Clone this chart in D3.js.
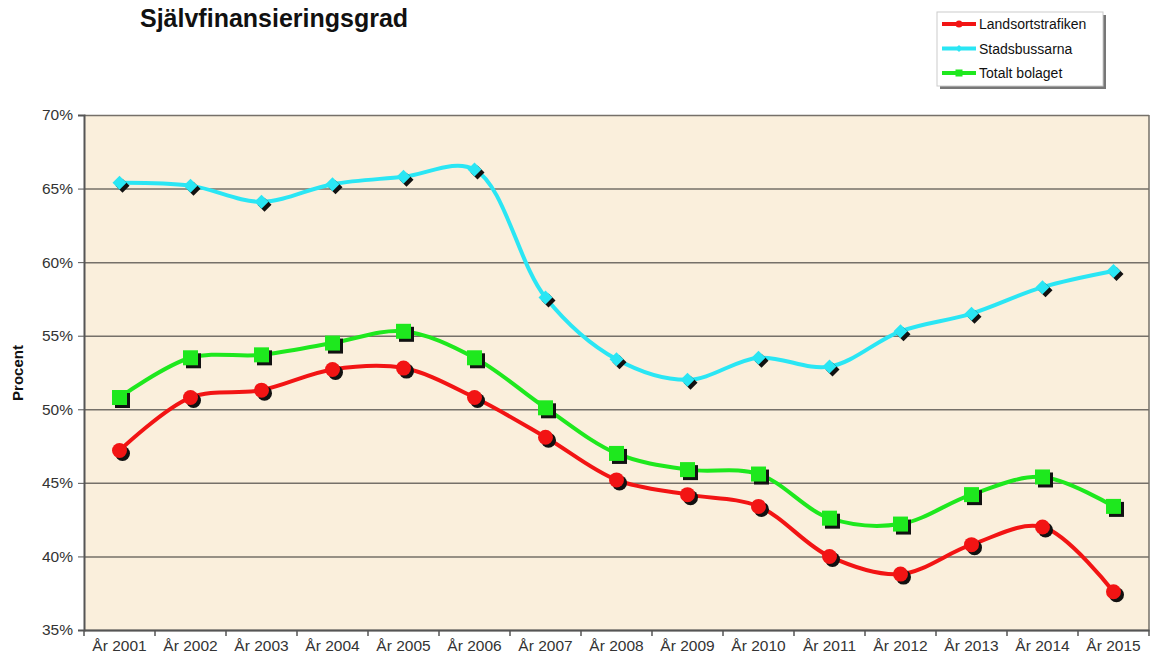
<!DOCTYPE html>
<html lang="sv">
<head>
<meta charset="UTF-8">
<title>Självfinansieringsgrad</title>
<script src="https://d3js.org/d3.v7.min.js"></script>
<style>
  body { margin: 0; background: #fff; }
  svg { display: block; font-family: "Liberation Sans", Arial, sans-serif; }
  .axis path, .axis line { stroke: #555; }
  .axis text { fill: #333; }
</style>
</head>
<body>
<svg id="chart" width="1152" height="657"></svg>
<script>
// data
var years = ["År 2001","År 2002","År 2003","År 2004","År 2005","År 2006","År 2007","År 2008",
             "År 2009","År 2010","År 2011","År 2012","År 2013","År 2014","År 2015"];
var landsort = [47.2, 50.8, 51.3, 52.7, 52.8, 50.8, 48.1, 45.2, 44.2, 43.4, 40.0, 38.8, 40.8, 42.0, 37.6];
var stadsbuss = [65.4, 65.2, 64.1, 65.3, 65.8, 66.3, 57.6, 53.4, 52.0, 53.5, 52.9, 55.3, 56.5, 58.3, 59.4];
var totalt = [50.8, 53.5, 53.7, 54.5, 55.3, 53.5, 50.1, 47.0, 45.9, 45.6, 42.6, 42.2, 44.2, 45.4, 43.4];
var yTicks = [35, 40, 45, 50, 55, 60, 65, 70];

var series = [
  { name: "Landsortstrafiken", values: landsort, color: "#f21414", marker: "circle" },
  { name: "Stadsbussarna", values: stadsbuss, color: "#2ae6f4", marker: "diamond" },
  { name: "Totalt bolaget", values: totalt, color: "#1ee81e", marker: "square" }
];

var svg = d3.select("#chart");
var plotL = 84, plotR = 1149, plotT = 115, plotB = 630;

var x = d3.scaleBand().domain(years).range([plotL, plotR]);
var y = d3.scaleLinear().domain([35, 70]).range([plotB, plotT]);

// plot background
svg.append("rect")
  .attr("x", plotL).attr("y", plotT)
  .attr("width", plotR - plotL).attr("height", plotB - plotT)
  .attr("fill", "#faefdc");

// gridlines
svg.append("g")
  .attr("transform", "translate(" + plotL + ",0)")
  .call(d3.axisLeft(y).tickValues(yTicks).tickSize(-(plotR - plotL)).tickFormat(""))
  .call(function(g) {
    g.select(".domain").remove();
    g.selectAll("line").attr("stroke", "#757069").attr("stroke-width", 1.5);
  });

// right border
svg.append("line")
  .attr("x1", plotR).attr("x2", plotR).attr("y1", plotT).attr("y2", plotB)
  .attr("stroke", "#757069").attr("stroke-width", 1.5);

// y axis
svg.append("g")
  .attr("class", "axis")
  .attr("transform", "translate(" + plotL + ",0)")
  .call(d3.axisLeft(y).tickValues(yTicks).tickSize(6).tickPadding(5).tickFormat(function(d) { return d + "%"; }))
  .call(function(g) {
    g.select(".domain").attr("stroke-width", 2);
    g.selectAll("text").attr("font-size", 15.5);
  });

// x axis
svg.append("g")
  .attr("class", "axis")
  .attr("transform", "translate(0," + plotB + ")")
  .call(d3.axisBottom(x).tickSize(0).tickPadding(10))
  .call(function(g) {
    g.select(".domain").attr("stroke-width", 2);
    g.selectAll("text").attr("font-size", 15.5);
  });

// x ticks at category boundaries
var bounds = years.map(function(d) { return x(d); }).concat([plotR]);
svg.append("g").selectAll("line")
  .data(bounds)
  .enter().append("line")
  .attr("x1", function(d) { return d; })
  .attr("x2", function(d) { return d; })
  .attr("y1", plotB).attr("y2", plotB + 6)
  .attr("stroke", "#555").attr("stroke-width", 1.5);

// y axis title
svg.append("text")
  .attr("transform", "translate(23,373) rotate(-90)")
  .attr("text-anchor", "middle")
  .attr("font-size", 15).attr("font-weight", "bold")
  .attr("fill", "#111")
  .text("Procent");

// title
svg.append("text")
  .attr("x", 140).attr("y", 27)
  .attr("font-size", 25).attr("font-weight", "bold")
  .attr("fill", "#111")
  .text("Självfinansieringsgrad");

var cx = function(i) { return x(years[i]) + x.bandwidth() / 2; };

var line = d3.line()
  .x(function(d, i) { return cx(i); })
  .y(function(d) { return y(d); })
  .curve(d3.curveCatmullRom.alpha(0.5));

function drawMarker(g, type, px, py, fill, size) {
  if (type === "circle") {
    g.append("circle").attr("cx", px).attr("cy", py).attr("r", size).attr("fill", fill);
  } else if (type === "square") {
    g.append("rect").attr("x", px - size).attr("y", py - size)
      .attr("width", size * 2).attr("height", size * 2).attr("fill", fill);
  } else {
    g.append("path")
      .attr("d", "M" + px + "," + (py - size) + "L" + (px + size) + "," + py + "L" + px + "," + (py + size) + "L" + (px - size) + "," + py + "Z")
      .attr("fill", fill);
  }
}

var sizes = { circle: 7.5, square: 7.5, diamond: 7 };

series.forEach(function(s) {
  var g = svg.append("g");
  g.append("path")
    .datum(s.values)
    .attr("d", line)
    .attr("fill", "none")
    .attr("stroke", s.color)
    .attr("stroke-width", 4);
  // marker shadows then markers
  s.values.forEach(function(v, i) {
    drawMarker(g, s.marker, cx(i) + 3, y(v) + 3, "#111", sizes[s.marker]);
  });
  s.values.forEach(function(v, i) {
    drawMarker(g, s.marker, cx(i), y(v), s.color, sizes[s.marker]);
  });
});

// legend
var lg = svg.append("g").attr("transform", "translate(937,12)");
lg.append("rect").attr("x", 3).attr("y", 3).attr("width", 166).attr("height", 74).attr("fill", "#777");
lg.append("rect").attr("width", 166).attr("height", 74).attr("fill", "#fff")
  .attr("stroke", "#ccc").attr("stroke-width", 1);
series.forEach(function(s, i) {
  var ly = 12 + i * 24.5;
  lg.append("line").attr("x1", 5).attr("x2", 39).attr("y1", ly).attr("y2", ly)
    .attr("stroke", s.color).attr("stroke-width", 4);
  drawMarker(lg, s.marker, 22, ly, s.color, 3.5);
  lg.append("text").attr("x", 42).attr("y", ly + 5)
    .attr("font-size", 14).attr("fill", "#111")
    .text(s.name);
});
</script>
</body>
</html>
